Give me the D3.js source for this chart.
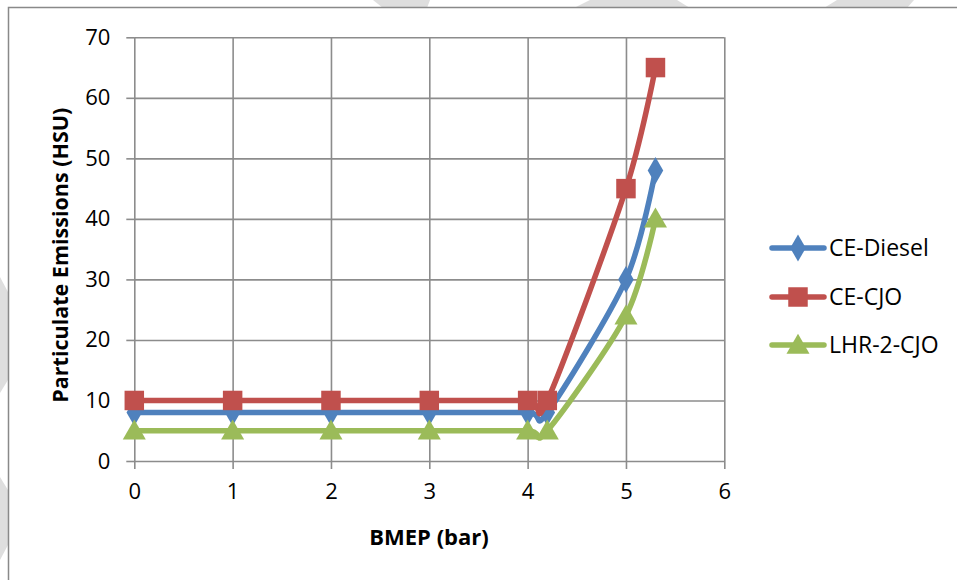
<!DOCTYPE html>
<html>
<head>
<meta charset="utf-8">
<script src="https://cdn.jsdelivr.net/npm/d3@7"></script>
<style>
  html, body { margin: 0; padding: 0; background: #fff; }
  svg { display: block; font-family: "Open Sans", sans-serif; }
</style>
</head>
<body>
<svg id="chart" width="957" height="580"></svg>
<script>
// ---- data ----
const bmep = [0, 1, 2, 3, 4, 4.2, 5, 5.3];
const ceDiesel = [8, 8, 8, 8, 8, 8, 30, 48];
const ceCJO = [10, 10, 10, 10, 10, 10, 45, 65];
const lhr2CJO = [5, 5, 5, 5, 5, 5, 24, 40];
const seriesNames = ["CE-Diesel", "CE-CJO", "LHR-2-CJO"];
const seriesColors = ["#4F81BD", "#C0504D", "#9BBB59"];
const seriesMarkers = ["diamond", "square", "triangle"];
const xTicks = [0, 1, 2, 3, 4, 5, 6];
const yTicks = [0, 10, 20, 30, 40, 50, 60, 70];
const xTitle = "BMEP (bar)";
const yTitle = "Particulate Emissions (HSU)";

const seriesValues = [ceDiesel, ceCJO, lhr2CJO];
const series = seriesNames.map((name, i) => ({
  name, color: seriesColors[i], marker: seriesMarkers[i],
  points: bmep.map((x, j) => ({ x, y: seriesValues[i][j] }))
}));

const svg = d3.select("#chart");

// background watermark fragments (outside chart border)
const wm = [
  [[373,0],[430,0],[427,8],[383,8]],
  [[590,0],[677,0],[690,8],[574,8]],
  [[837,0],[914,0],[907,8],[824,8]],
  [[0,277],[8,292],[8,380],[0,393]],
  [[0,477],[8,490],[8,545],[0,560]]
];
svg.selectAll("polygon.wm").data(wm).join("polygon")
  .attr("class", "wm")
  .attr("points", d => d.map(p => p.join(",")).join(" "))
  .attr("fill", "#dedede");

// chart area border
svg.append("rect")
  .attr("x", 8.5).attr("y", 7.5)
  .attr("width", 1000).attr("height", 1000)
  .attr("fill", "#fff")
  .attr("stroke", "#898989").attr("stroke-width", 1.5);

const x = d3.scaleLinear().domain([0, 6]).range([134.3, 724.3]);
const y = d3.scaleLinear().domain([0, 70]).range([461, 37.3]);

const gridColor = "#8c8c8c";

// horizontal gridlines (with tick extension to the left)
svg.append("g")
  .attr("transform", `translate(${x(0)},0)`)
  .call(d3.axisLeft(y).tickValues(yTicks).tickSize(8).tickPadding(16)
    .tickFormat(d3.format("d")))
  .call(g => g.select(".domain").remove())
  .call(g => g.selectAll(".tick line").attr("stroke", gridColor).attr("stroke-width", 1.6))
  .call(g => g.selectAll(".tick").append("line")
    .attr("x1", 0).attr("x2", x(6) - x(0))
    .attr("stroke", gridColor).attr("stroke-width", 1.6))
  .call(g => g.selectAll(".tick text")
    .attr("font-size", 22).attr("fill", "#000")
    .attr("font-family", "Open Sans, sans-serif"));

// vertical gridlines (with tick extension below)
svg.append("g")
  .attr("transform", `translate(0,${y(0)})`)
  .call(d3.axisBottom(x).tickValues(xTicks).tickSize(8).tickPadding(14)
    .tickFormat(d3.format("d")))
  .call(g => g.select(".domain").remove())
  .call(g => g.selectAll(".tick line").attr("stroke", gridColor).attr("stroke-width", 1.6))
  .call(g => g.selectAll(".tick").append("line")
    .attr("y1", 0).attr("y2", y(70) - y(0))
    .attr("stroke", gridColor).attr("stroke-width", 1.6))
  .call(g => g.selectAll(".tick text")
    .attr("font-size", 22).attr("fill", "#000")
    .attr("font-family", "Open Sans, sans-serif"));

// axis titles
svg.append("text")
  .attr("x", 429).attr("y", 545)
  .attr("text-anchor", "middle")
  .attr("font-size", 22).attr("font-weight", "bold")
  .text(xTitle);

svg.append("text")
  .attr("transform", `translate(68,${(y(0) + y(70)) / 2 + 6}) rotate(-90)`)
  .attr("text-anchor", "middle")
  .attr("font-size", 21.5).attr("font-weight", "bold")
  .text(yTitle);

// marker symbol
const symType = { diamond: d3.symbolDiamond, square: d3.symbolSquare, triangle: d3.symbolTriangle };
const symSize = { diamond: 210, square: 380, triangle: 230 };
function marker(sel, kind, color) {
  sel.attr("d", d3.symbol().type(symType[kind]).size(symSize[kind])())
     .attr("fill", color);
}

const line = d3.line().x(d => x(d.x)).y(d => y(d.y)).curve(d3.curveCardinal.tension(0.15));

series.forEach(s => {
  const g = svg.append("g");
  g.append("path")
    .attr("d", line(s.points))
    .attr("fill", "none")
    .attr("stroke", s.color).attr("stroke-width", 5.5)
    .attr("stroke-linejoin", "round").attr("stroke-linecap", "round");
  g.selectAll("path.m").data(s.points).join("path")
    .attr("class", "m")
    .attr("transform", d => `translate(${x(d.x)},${y(d.y) + (s.marker === "triangle" ? 2 : 0)})`)
    .call(sel => marker(sel, s.marker, s.color));
});

// legend
const legendY = [248, 297, 345];
series.forEach((s, i) => {
  const g = svg.append("g").attr("transform", `translate(0,${legendY[i]})`);
  g.append("line").attr("x1", 772).attr("x2", 824).attr("y1", 0).attr("y2", 0)
    .attr("stroke", s.color).attr("stroke-width", 5.5).attr("stroke-linecap", "round");
  g.append("path").attr("transform", `translate(798,${s.marker === "triangle" ? 2 : 0})`)
    .call(sel => marker(sel, s.marker, s.color));
  g.append("text").attr("x", 829).attr("y", 0).attr("dy", "0.35em")
    .attr("font-size", 23).attr("fill", "#000")
    .text(s.name);
});
</script>
</body>
</html>
